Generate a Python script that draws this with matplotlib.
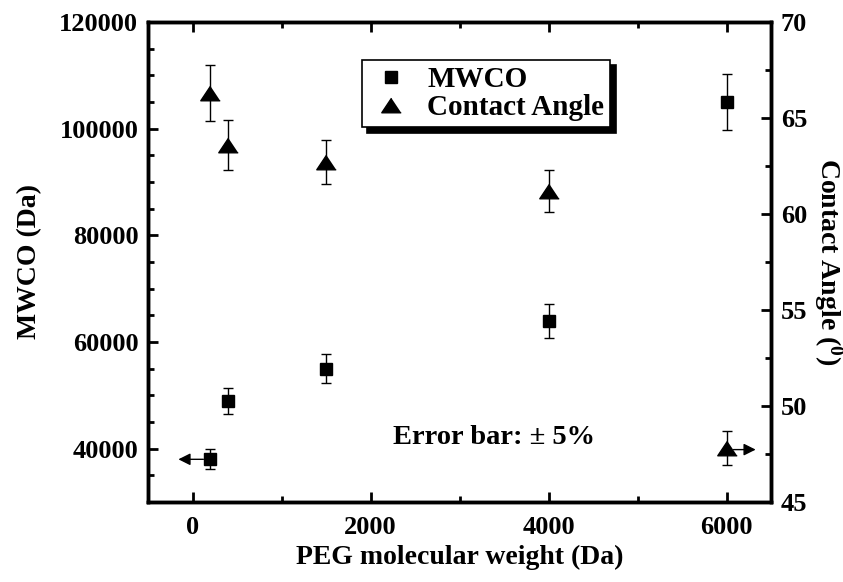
import matplotlib
matplotlib.use('Agg')
import matplotlib.pyplot as plt
from matplotlib.ticker import MultipleLocator
from matplotlib.transforms import offset_copy

plt.rcParams['font.family'] = ['Liberation Serif', 'DejaVu Serif']
plt.rcParams['font.weight'] = 'bold'
plt.rcParams['mathtext.fontset'] = 'custom'
plt.rcParams['mathtext.rm'] = 'Liberation Serif:bold'
plt.rcParams['mathtext.it'] = 'Liberation Serif:bold'
plt.rcParams['mathtext.bf'] = 'Liberation Serif:bold'

# PEG molecular weight (Da)
peg = [200, 400, 1500, 4000, 6000]
# MWCO (Da), error bars +/- 5 %
mwco = [38000, 49000, 55000, 64000, 105000]
mwco_err = [1900, 2450, 2750, 3200, 5250]
# contact angle (deg)
angle = [66.3, 63.6, 62.7, 61.2, 47.8]
angle_err = [1.45, 1.3, 1.15, 1.1, 0.9]

fig = plt.figure(figsize=(8.43, 5.82), dpi=100)
ax = fig.add_axes([0.1756, 0.1375, 0.739, 0.8247])
ax2 = ax.twinx()

tri = [(0, 1.5), (-2, -1.5), (2, -1.5)]

ax.errorbar(peg, mwco, yerr=mwco_err, fmt='s', color='k', ms=9, mec='k',
            ecolor='k', elinewidth=1, capsize=3.6, capthick=1, zorder=3)
ax2.errorbar(peg, angle, yerr=angle_err, fmt='none', ecolor='k',
             elinewidth=1, capsize=3.6, capthick=1, zorder=2)
ax2.plot(peg, angle, ls='none', marker=tri, color='k', ms=14, zorder=3)

ax.set_xlim(-500, 6500)
ax.set_ylim(30000, 120000)
ax2.set_ylim(45, 70)

ax.xaxis.set_major_locator(MultipleLocator(2000))
ax.xaxis.set_minor_locator(MultipleLocator(1000))
ax.yaxis.set_major_locator(MultipleLocator(20000))
ax.yaxis.set_minor_locator(MultipleLocator(5000))
ax2.yaxis.set_major_locator(MultipleLocator(5))
ax2.yaxis.set_minor_locator(MultipleLocator(2.5))

for a in (ax, ax2):
    for s in a.spines.values():
        s.set_linewidth(2.5)
ax.tick_params(which='both', direction='in', width=2, top=True, right=False,
               labelsize=19)
ax.tick_params(which='major', length=7)
ax.tick_params(which='minor', length=4)
ax.tick_params(axis='x', pad=10)
ax.tick_params(axis='y', pad=7)
ax2.tick_params(which='both', direction='in', width=2, labelsize=19, pad=7)
ax2.tick_params(which='major', length=7)
ax2.tick_params(which='minor', length=4)

ax.set_xlabel('PEG molecular weight (Da)', fontsize=20, fontweight='bold')
ax.set_ylabel('MWCO (Da)', fontsize=20, fontweight='bold')
ax2.set_ylabel(r'Contact Angle ($^{0}$)', fontsize=20, fontweight='bold',
               rotation=270, va='bottom')
ax.xaxis.set_label_coords(0.5, -0.09)
ax.yaxis.set_label_coords(-0.170, 0.5)
ax2.yaxis.set_label_coords(1.066, 0.5)

# arrows showing which axis each series belongs to
ax.annotate('', xy=(peg[0], mwco[0]),
            xycoords=offset_copy(ax.transData, fig=fig, x=-23, y=0, units='points'),
            xytext=(peg[0], mwco[0]),
            textcoords=offset_copy(ax.transData, fig=fig, x=-5, y=0, units='points'),
            arrowprops=dict(arrowstyle='-|>', color='k', lw=1,
                            mutation_scale=18, shrinkA=0, shrinkB=0))
ax2.annotate('', xy=(peg[-1], angle[-1]),
             xycoords=offset_copy(ax2.transData, fig=fig, x=21, y=-1, units='points'),
             xytext=(peg[-1], angle[-1]),
             textcoords=offset_copy(ax2.transData, fig=fig, x=5, y=-1, units='points'),
             arrowprops=dict(arrowstyle='-|>', color='k', lw=1,
                             mutation_scale=18, shrinkA=0, shrinkB=0))

ax.text(0.555, 0.135, 'Error bar: \u00b1 5%', transform=ax.transAxes,
        ha='center', va='center', fontsize=20.5, fontweight='bold')

h1 = ax.plot([], [], 's', color='k', ms=9)[0]
h2 = ax.plot([], [], ls='none', marker=tri, color='k', ms=14)[0]
leg = ax2.legend([h1, h2], ['MWCO', 'Contact Angle'], loc='upper left',
                 bbox_to_anchor=(0.343, 0.921), fontsize=21, frameon=True,
                 fancybox=False, handlelength=1.6, handletextpad=0.45,
                 borderpad=0.2, labelspacing=0.05, borderaxespad=0,
                 shadow={'ox': 4, 'oy': -4, 'facecolor': 'k',
                         'edgecolor': 'k', 'alpha': 1})
leg.get_frame().set_edgecolor('k')
leg.get_frame().set_linewidth(1.2)
leg.get_frame().set_alpha(1)

fig.savefig('out.png', dpi=100)
